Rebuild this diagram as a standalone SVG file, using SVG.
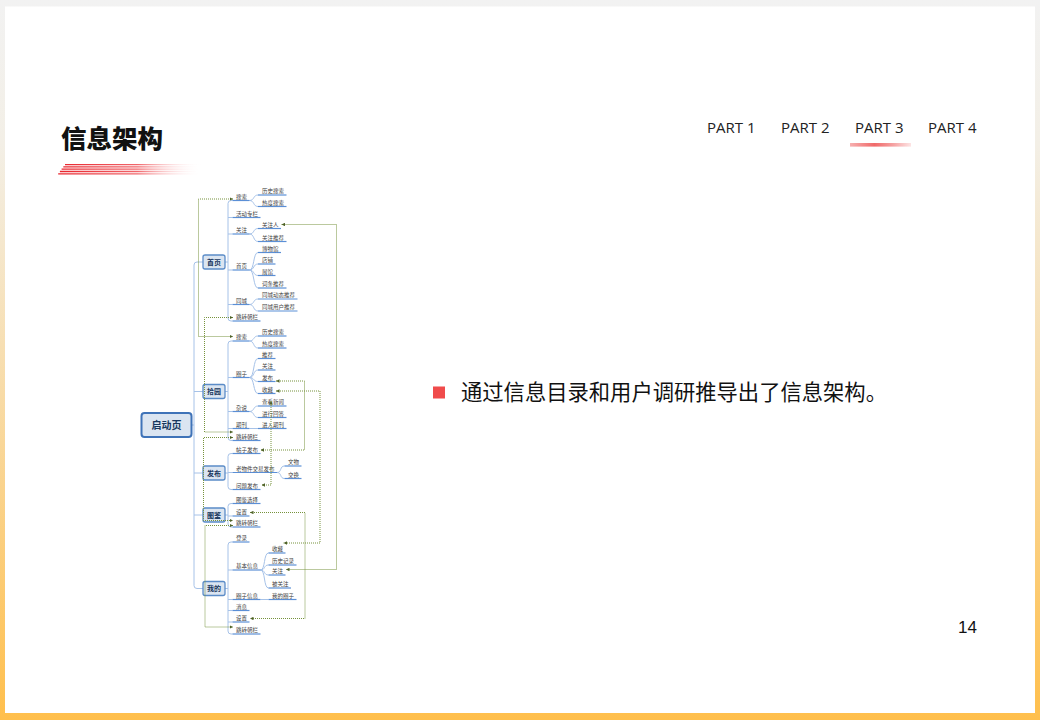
<svg xmlns="http://www.w3.org/2000/svg" width="1040" height="720" viewBox="0 0 1040 720">
<defs>
<linearGradient id="frame" x1="0" y1="0" x2="0" y2="1">
<stop offset="0" stop-color="#f2f2f2"/>
<stop offset="0.2" stop-color="#f3efe6"/>
<stop offset="0.55" stop-color="#f8dba6"/>
<stop offset="1" stop-color="#ffbf4c"/>
</linearGradient>
<linearGradient id="stripe" gradientUnits="userSpaceOnUse" x1="58" y1="0" x2="202" y2="0">
<stop offset="0" stop-color="#e8232b"/>
<stop offset="0.55" stop-color="#ee4a50" stop-opacity="0.85"/>
<stop offset="1" stop-color="#ffffff" stop-opacity="0"/>
</linearGradient>
<linearGradient id="navline" x1="0" y1="0" x2="1" y2="0">
<stop offset="0" stop-color="#f7b0b0"/>
<stop offset="0.4" stop-color="#f06a6a"/>
<stop offset="0.7" stop-color="#f5a0a0"/>
<stop offset="1" stop-color="#fde4e4"/>
</linearGradient>
<marker id="arr" viewBox="0 0 4 4" markerWidth="3.5" markerHeight="3.5" refX="4" refY="2" orient="auto-start-reverse" markerUnits="userSpaceOnUse">
<path d="M0,0 L4,2 L0,4 z" fill="#4f6228"/>
</marker>
</defs>
<style>
.t1{font-family:"Noto Sans CJK SC",sans-serif;font-size:7px;font-weight:bold;fill:#17375e;text-anchor:middle}
.t{font-family:"Noto Sans CJK SC",sans-serif;font-size:5.5px;fill:#404040}
.box{fill:#dbe5f1;stroke:#5b8cc8;stroke-width:1.3}
.br{fill:none;stroke:#a6c2e8;stroke-width:1}
.ul{stroke:#5b8fd6;stroke-width:1.2}
.rel{fill:none;stroke:#76923c;stroke-width:1;stroke-dasharray:1 1;marker-start:url(#arr);marker-end:url(#arr)}
.nav{font-family:"Open Sans",sans-serif;font-size:15px;fill:#222}
.st{stroke:url(#stripe);stroke-width:1.3}
</style>
<rect x="0" y="0" width="1040" height="720" fill="url(#frame)"/>
<rect x="5" y="6.5" width="1030" height="706.5" fill="#ffffff"/>

<text x="61" y="148" font-family="'Noto Sans CJK SC',sans-serif" font-size="25.5" font-weight="900" fill="#111">信息架构</text>
<g id="title-stripes">
<line class="st" x1="65" y1="164.6" x2="202" y2="164.6"/>
<line class="st" x1="63.3" y1="166.9" x2="198" y2="166.9"/>
<line class="st" x1="61.6" y1="169.2" x2="201" y2="169.2"/>
<line class="st" x1="59.9" y1="171.5" x2="196" y2="171.5"/>
<line class="st" x1="58.2" y1="173.8" x2="199" y2="173.8"/>
</g>

<g id="nav">
<text class="nav" x="707" y="133">PART 1</text>
<text class="nav" x="781" y="133">PART 2</text>
<text class="nav" x="855" y="133">PART 3</text>
<text class="nav" x="928" y="133">PART 4</text>
<rect x="850" y="143" width="61" height="3.6" fill="url(#navline)"/>
</g>

<g id="bullet">
<rect x="433" y="386.5" width="12" height="12" fill="#f04b4b"/>
<text x="461" y="399.5" font-family="'Noto Sans CJK SC',sans-serif" font-size="21.3" fill="#111">通过信息目录和用户调研推导出了信息架构。</text>
</g>

<text x="958" y="633" font-family="'Liberation Sans',sans-serif" font-size="17" fill="#111">14</text>

<g id="branches">
<path class="br" d="M191.5,425 H194 M203,262 H197 Q194,262 194,265 V585.5 Q194,588.5 197,588.5 H203 M194,391.5 H203 M194,473 H203 M194,515 H203"/>
<path class="br" d="M225,262 H228 M232.5,200.5 H231 Q228,200.5 228,203.5 V318 Q228,321 231,321 H232.5 M228,217.5 H232.5 M228,234 H232.5 M228,270 H232.5 M228,304.5 H232.5"/>
<path class="br" d="M225,391.5 H228 M232.5,341 H231 Q228,341 228,344 V437.5 Q228,440.5 231,440.5 H232.5 M228,377.5 H232.5 M228,411.5 H232.5 M228,428.5 H232.5"/>
<path class="br" d="M225,473 H228 M232.5,453.5 H231 Q228,453.5 228,456.5 V486.5 Q228,489.5 231,489.5 H232.5 M228,472.5 H232.5"/>
<path class="br" d="M225,515 H228 M232.5,503.5 H231 Q228,503.5 228,506.5 V524 Q228,527 231,527 H232.5 M228,516 H232.5"/>
<path class="br" d="M225,588.5 H228 M232.5,542 H231 Q228,542 228,545 V631 Q228,634 231,634 H232.5 M228,570 H232.5 M228,599.5 H232.5 M228,610.5 H232.5 M228,622 H232.5"/>
<path class="br" d="M249.5,200.5 C254.5,200.5 253,195 258,195 M249.5,200.5 C254.5,200.5 253,206.5 258,206.5
M249.5,234 C254.5,234 253,228.5 258,228.5 M249.5,234 C254.5,234 253,241.5 258,241.5
M249.5,270 C254.5,270 253,252.5 258,252.5 M249.5,270 C254.5,270 253,264 258,264 M249.5,270 C254.5,270 253,275.5 258,275.5 M249.5,270 C254.5,270 253,288 258,288
M249.5,304.5 C254.5,304.5 253,299 258,299 M249.5,304.5 C254.5,304.5 253,311 258,311
M249.5,341 C254.5,341 253,336 258,336 M249.5,341 C254.5,341 253,348 258,348
M249.5,377.5 C254.5,377.5 253,358.5 258,358.5 M249.5,377.5 C254.5,377.5 253,370 258,370 M249.5,377.5 C254.5,377.5 253,381.5 258,381.5 M249.5,377.5 C254.5,377.5 253,393.5 258,393.5
M249.5,411.5 C254.5,411.5 253,406 258,406 M249.5,411.5 C254.5,411.5 253,417.5 258,417.5
M249.5,428.5 H258
M277,472.5 C282,472.5 279.5,466 284.5,466 M277,472.5 C282,472.5 279.5,478.5 284.5,478.5
M260.5,570 C265.5,570 263.5,553 268.5,553 M260.5,570 C265.5,570 263.5,565 268.5,565 M260.5,570 C265.5,570 263.5,575 268.5,575 M260.5,570 C265.5,570 263.5,588 268.5,588
M260.5,599.5 H268.5"/>
</g>

<g id="root">
<rect x="141.5" y="413" width="50" height="24" rx="3" fill="#dbe5f1" stroke="#3f73b8" stroke-width="2"/>
<text x="166.5" y="429" font-family="'Noto Sans CJK SC',sans-serif" font-size="10" font-weight="bold" fill="#17375e" text-anchor="middle">启动页</text>
</g>

<g id="n-shouye">
<rect class="box" x="203" y="255" width="22" height="14" rx="2"/>
<text class="t1" x="214" y="264.5">首页</text>
<g class="ul">
<line x1="232.5" y1="200.5" x2="249.5" y2="200.5"/><line x1="232.5" y1="217.5" x2="260.5" y2="217.5"/><line x1="232.5" y1="234" x2="249.5" y2="234"/><line x1="232.5" y1="270" x2="249.5" y2="270"/><line x1="232.5" y1="304.5" x2="249.5" y2="304.5"/><line x1="232.5" y1="321" x2="260.5" y2="321"/>
<line x1="258" y1="195" x2="286.5" y2="195"/><line x1="258" y1="206.5" x2="286.5" y2="206.5"/><line x1="258" y1="228.5" x2="281" y2="228.5"/><line x1="258" y1="241.5" x2="286.5" y2="241.5"/><line x1="258" y1="252.5" x2="281" y2="252.5"/><line x1="258" y1="264" x2="275.5" y2="264"/><line x1="258" y1="275.5" x2="275.5" y2="275.5"/><line x1="258" y1="288" x2="286.5" y2="288"/><line x1="258" y1="299" x2="297.5" y2="299"/><line x1="258" y1="311" x2="297.5" y2="311"/>
</g>
<text class="t" x="236" y="198.5">搜索</text><text class="t" x="236" y="215.5">活动专栏</text><text class="t" x="236" y="232">关注</text><text class="t" x="236" y="268">首页</text><text class="t" x="236" y="302.5">同城</text><text class="t" x="236" y="319">跳转朝栏</text>
<text class="t" x="262" y="193">历史搜索</text><text class="t" x="262" y="204.5">热度搜索</text><text class="t" x="262" y="226.5">关注人</text><text class="t" x="262" y="239.5">关注推荐</text><text class="t" x="262" y="250.5">博物馆</text><text class="t" x="262" y="262">店铺</text><text class="t" x="262" y="273.5">展馆</text><text class="t" x="262" y="286">词条推荐</text><text class="t" x="262" y="297">同城动态推荐</text><text class="t" x="262" y="309">同城用户推荐</text>
</g>

<g id="n-shiyuan">
<rect class="box" x="203" y="384.5" width="22" height="14" rx="2"/>
<text class="t1" x="214" y="394">拾园</text>
<g class="ul">
<line x1="232.5" y1="341" x2="249.5" y2="341"/><line x1="232.5" y1="377.5" x2="249.5" y2="377.5"/><line x1="232.5" y1="411.5" x2="249.5" y2="411.5"/><line x1="232.5" y1="428.5" x2="249.5" y2="428.5"/><line x1="232.5" y1="440.5" x2="260.5" y2="440.5"/>
<line x1="258" y1="336" x2="286.5" y2="336"/><line x1="258" y1="348" x2="286.5" y2="348"/><line x1="258" y1="358.5" x2="275.5" y2="358.5"/><line x1="258" y1="370" x2="275.5" y2="370"/><line x1="258" y1="381.5" x2="275.5" y2="381.5"/><line x1="258" y1="393.5" x2="275.5" y2="393.5"/><line x1="258" y1="406" x2="286.5" y2="406"/><line x1="258" y1="417.5" x2="286.5" y2="417.5"/><line x1="258" y1="428.5" x2="286.5" y2="428.5"/>
</g>
<text class="t" x="236" y="339">搜索</text><text class="t" x="236" y="375.5">圈子</text><text class="t" x="236" y="409.5">杂说</text><text class="t" x="236" y="426.5">期刊</text><text class="t" x="236" y="438.5">跳转朝栏</text>
<text class="t" x="262" y="334">历史搜索</text><text class="t" x="262" y="346">热度搜索</text><text class="t" x="262" y="356.5">推荐</text><text class="t" x="262" y="368">关注</text><text class="t" x="262" y="379.5">发布</text><text class="t" x="262" y="391.5">收藏</text><text class="t" x="262" y="404">查看新闻</text><text class="t" x="262" y="415.5">进行回答</text><text class="t" x="262" y="426.5">进入期刊</text>
</g>

<g id="n-fabu">
<rect class="box" x="203" y="466" width="22" height="14" rx="2"/>
<text class="t1" x="214" y="475.5">发布</text>
<g class="ul">
<line x1="232.5" y1="453.5" x2="260.5" y2="453.5"/><line x1="232.5" y1="472.5" x2="277" y2="472.5"/><line x1="232.5" y1="489.5" x2="260.5" y2="489.5"/>
<line x1="284.5" y1="466" x2="301.5" y2="466"/><line x1="284.5" y1="478.5" x2="301.5" y2="478.5"/>
</g>
<text class="t" x="236" y="451.5">帖子发布</text><text class="t" x="236" y="470.5">老物件交易发布</text><text class="t" x="236" y="487.5">问题发布</text>
<text class="t" x="288" y="464">文物</text><text class="t" x="288" y="476.5">交换</text>
</g>

<g id="n-tujian">
<rect class="box" x="203" y="508" width="22" height="14" rx="2"/>
<text class="t1" x="214" y="517.5">图鉴</text>
<g class="ul">
<line x1="232.5" y1="503.5" x2="260.5" y2="503.5"/><line x1="232.5" y1="516" x2="249.5" y2="516"/><line x1="232.5" y1="527" x2="260.5" y2="527"/>
</g>
<text class="t" x="236" y="501.5">图鉴选择</text><text class="t" x="236" y="514">设置</text><text class="t" x="236" y="525">跳转朝栏</text>
</g>

<g id="n-wode">
<rect class="box" x="203" y="581.5" width="22" height="14" rx="2"/>
<text class="t1" x="214" y="591">我的</text>
<g class="ul">
<line x1="232.5" y1="542" x2="249.5" y2="542"/><line x1="232.5" y1="570" x2="260.5" y2="570"/><line x1="232.5" y1="599.5" x2="260.5" y2="599.5"/><line x1="232.5" y1="610.5" x2="249.5" y2="610.5"/><line x1="232.5" y1="622" x2="249.5" y2="622"/><line x1="232.5" y1="634" x2="260.5" y2="634"/>
<line x1="268.5" y1="553" x2="285.5" y2="553"/><line x1="268.5" y1="565" x2="296.5" y2="565"/><line x1="268.5" y1="575" x2="285.5" y2="575"/><line x1="268.5" y1="588" x2="291" y2="588"/><line x1="268.5" y1="599.5" x2="296.5" y2="599.5"/>
</g>
<text class="t" x="236" y="540">登录</text><text class="t" x="236" y="568">基本信息</text><text class="t" x="236" y="597.5">圈子信息</text><text class="t" x="236" y="608.5">消息</text><text class="t" x="236" y="620">设置</text><text class="t" x="236" y="632">跳转朝栏</text>
<text class="t" x="272" y="551">收藏</text><text class="t" x="272" y="563">历史记录</text><text class="t" x="272" y="573">关注</text><text class="t" x="272" y="586">被关注</text><text class="t" x="272" y="597.5">我的圈子</text>
</g>

<g id="relations">
<path class="rel" d="M233,199 H198.5 V336.5 H233"/>
<path class="rel" d="M281.5,224.5 H336.5 V569.5 H286"/>
<path class="rel" d="M233,317.5 H204.5 V432 H233"/>
<path class="rel" d="M233,437.5 H203.5 V520.5 H233"/>
<path class="rel" d="M233,525.5 H205 V627 H233"/>
<path class="rel" d="M276,381 H304.5 V450 H260.5"/>
<path class="rel" d="M276,391 H320 V543 H283.5"/>
<path class="rel" d="M271,401 V485 H261.5"/>
<path class="rel" d="M250,512.5 H305 V618.5 H250"/>
</g>
</svg>
